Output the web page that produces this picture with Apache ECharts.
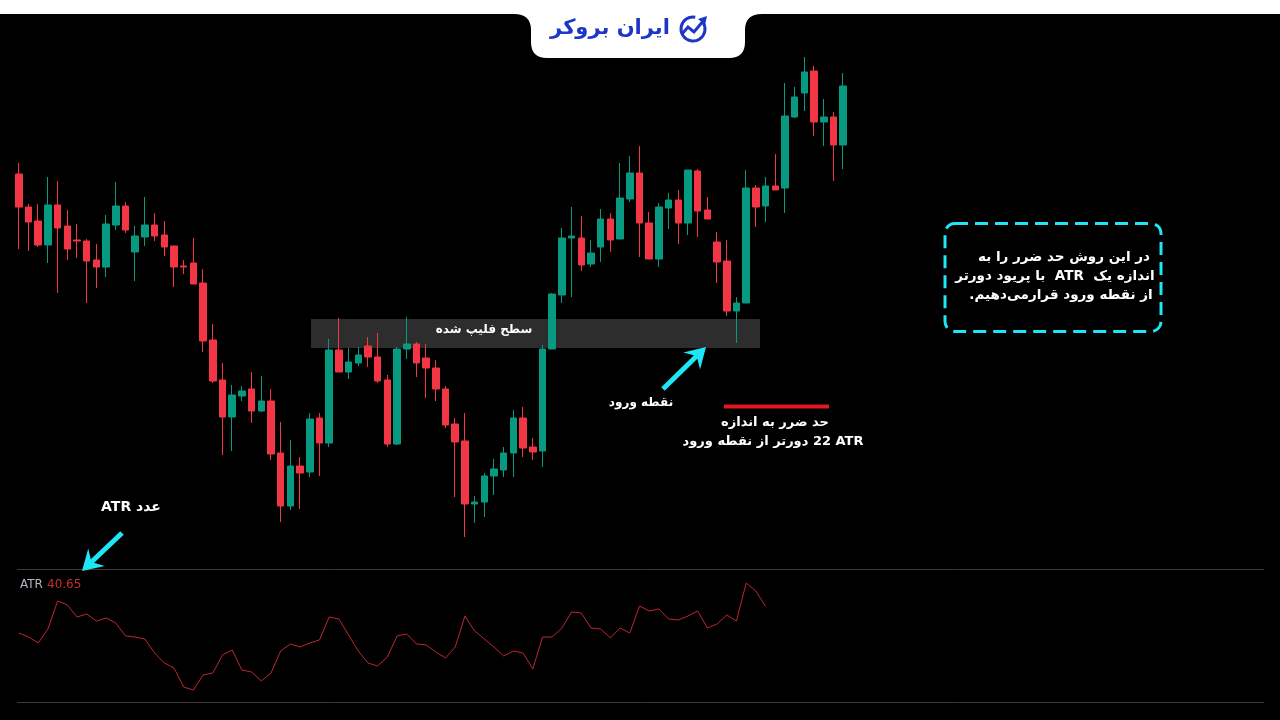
<!DOCTYPE html>
<html>
<head>
<meta charset="utf-8">
<script src="https://cdn.jsdelivr.net/npm/echarts@6/dist/echarts.min.js"></script>
<style>
html,body{margin:0;padding:0;background:#000;}
#chart{width:1280px;height:720px;}
</style>
</head>
<body>
<div id="chart"></div>
<script>
// ---- data ----
const opens  = [2426,2393,2379,2355,2395,2374,2360,2359,2340,2333,2375,2394,2348,2363,2375,2365,2354,2334,2337,2317,2260,2220,2183,2204,2211,2189,2199,2147,2094,2134,2128,2182,2157,2250,2228,2237,2254,2243,2220,2156,2251,2256,2242,2232,2211,2176,2159,2096,2098,2124,2130,2147,2182,2153,2149,2251,2305,2362,2362,2336,2353,2381,2361,2401,2427,2377,2341,2392,2400,2377,2429,2390,2358,2339,2289,2297,2412,2394,2414,2412,2483,2507,2529,2478,2483,2455];
const closes = [2393,2378,2355,2395,2372,2351,2359,2339,2333,2376,2394,2370,2364,2375,2364,2353,2333,2333,2316,2259,2219,2183,2205,2209,2189,2199,2146,2094,2134,2127,2181,2157,2250,2228,2238,2245,2243,2219,2156,2251,2256,2237,2232,2211,2175,2158,2096,2098,2124,2131,2147,2182,2152,2148,2251,2306,2362,2364,2335,2347,2381,2360,2402,2427,2377,2341,2393,2400,2377,2430,2389,2381,2338,2289,2297,2412,2393,2414,2410,2484,2503,2528,2478,2483,2455,2514];
const lows   = [2351,2349,2353,2337,2307,2340,2342,2297,2312,2323,2370,2367,2319,2354,2359,2344,2313,2326,2316,2248,2217,2145,2149,2199,2177,2188,2140,2078,2090,2091,2123,2124,2153,2228,2221,2234,2233,2217,2153,2155,2241,2223,2202,2199,2172,2103,2063,2077,2083,2105,2123,2123,2143,2140,2133,2251,2297,2303,2329,2333,2338,2348,2361,2398,2343,2341,2333,2371,2356,2365,2363,2381,2317,2284,2257,2297,2373,2378,2410,2387,2482,2489,2464,2454,2419,2431];
const highs  = [2437,2396,2396,2423,2419,2390,2376,2361,2356,2385,2418,2398,2374,2403,2387,2379,2354,2340,2362,2331,2276,2237,2215,2214,2228,2224,2211,2178,2160,2143,2187,2187,2261,2282,2252,2253,2263,2267,2225,2253,2283,2258,2256,2240,2214,2182,2187,2104,2127,2141,2153,2190,2193,2162,2255,2307,2372,2393,2384,2360,2391,2387,2437,2444,2454,2388,2397,2407,2410,2430,2431,2403,2368,2360,2303,2430,2415,2423,2446,2517,2513,2543,2534,2501,2488,2527];
const atr = [33.77,32.74,31.20,34.80,42.02,40.99,37.90,38.67,36.87,37.64,
             36.35,33.00,32.74,32.23,28.62,26.05,24.76,19.86,19.09,22.96,
             23.47,28.11,29.40,24.24,23.73,21.41,23.47,29.14,30.94,30.17,
             31.20,31.97,37.90,37.38,33.26,29.14,26.05,25.27,27.59,33.00,
             33.52,30.94,30.68,28.88,27.33,30.17,38.15,34.29,32.23,30.17,
             27.85,29.14,28.62,24.50,32.74,32.74,35.06,39.18,38.93,35.06,
             34.80,32.49,35.06,33.77,40.73,39.44,39.96,37.38,37.12,38.15,
             39.44,35.06,36.09,38.41,36.87,46.65,44.59,40.65];
const slotCount = 129; // visible bar slots (chart continues empty to the right)
const categories = Array.from({length: slotCount}, (_, i) => String(i + 1));

const candleData = opens.map((o, i) => [o, closes[i], lows[i], highs[i]]);

const UP = '#089981', DOWN = '#f23645', CYAN = '#1ee6f6';
const FA = 'DejaVu Sans';

function arrow(x1, y1, x2, y2) {
  const dx = x2 - x1, dy = y2 - y1, L = Math.hypot(dx, dy);
  const ux = dx / L, uy = dy / L, nx = -uy, ny = ux;
  const hl = 20, hw = 12;
  const bx = x2 - hl * ux, by = y2 - hl * uy;
  const mx = x2 - 13 * ux, my = y2 - 13 * uy;
  return [
    { type: 'line', z: 50, shape: { x1, y1, x2: mx, y2: my }, style: { stroke: CYAN, lineWidth: 5 } },
    { type: 'polygon', z: 50, shape: { points: [[x2, y2], [bx + hw * nx, by + hw * ny], [mx, my], [bx - hw * nx, by - hw * ny]] }, style: { fill: CYAN } }
  ];
}
function txt(text, x, y, size, color, align) {
  return { type: 'text', z: 60, style: { text, x, y, fill: color, font: 'bold ' + size + 'px "' + FA + '"', textAlign: align || 'center', textVerticalAlign: 'middle', align: align || 'center', verticalAlign: 'middle' } };
}
// logo tab outline (quadratic corners sampled into polygon points)
function quad(p0, p1, p2, n) {
  const out = [];
  for (let i = 0; i <= n; i++) {
    const t = i / n, a = (1 - t) * (1 - t), b = 2 * (1 - t) * t, c = t * t;
    out.push([a * p0[0] + b * p1[0] + c * p2[0], a * p0[1] + b * p1[1] + c * p2[1]]);
  }
  return out;
}
const tabPts = [[514, 0], [514, 14],
  ...quad([514, 14], [531, 14], [531, 30], 8),
  ...quad([531, 42], [531, 58], [547, 58], 8),
  ...quad([729, 58], [745, 58], [745, 42], 8),
  ...quad([745, 30], [745, 14], [762, 14], 8),
  [762, 0]];

const chart = echarts.init(document.getElementById('chart'), null, { renderer: 'canvas' });

const graphics = [
  // flipped level zone
  { type: 'rect', z: 0, shape: { x: 311, y: 319, width: 449, height: 29 }, style: { fill: '#2d2d2d' } },
  txt('سطح فلیپ شده', 484, 330, 12, '#ffffff'),
  // ATR pane frame lines
  { type: 'line', z: 1, shape: { x1: 17, y1: 569.5, x2: 1264, y2: 569.5 }, style: { stroke: '#3a3a3a', lineWidth: 1 } },
  { type: 'line', z: 1, shape: { x1: 17, y1: 702.5, x2: 1264, y2: 702.5 }, style: { stroke: '#3a3a3a', lineWidth: 1 } },
  { type: 'text', z: 60, style: { text: 'ATR', x: 20, y: 585, fill: '#b2b5be', font: '12px "DejaVu Sans"', textAlign: 'left', textVerticalAlign: 'middle', align: 'left', verticalAlign: 'middle' } },
  { type: 'text', z: 60, style: { text: atr[atr.length - 1].toFixed(2), x: 47, y: 585, fill: '#c62d2d', font: '12px "DejaVu Sans"', textAlign: 'left', textVerticalAlign: 'middle', align: 'left', verticalAlign: 'middle' } },
  // annotations
  ...arrow(663, 389, 706, 347),
  txt('نقطه ورود', 641, 403, 12, '#ffffff'),
  { type: 'line', z: 50, shape: { x1: 724, y1: 406.5, x2: 829, y2: 406.5 }, style: { stroke: '#e0191e', lineWidth: 4 } },
  txt('حد ضرر به اندازه', 775, 423, 13, '#ffffff'),
  txt('دورتر از نقطه ورود \u200E22 ATR', 773, 442, 13, '#ffffff'),
  ...arrow(122, 533, 82, 571),
  txt('ATR عدد', 131, 507, 14, '#ffffff'),
  // dashed info box
  { type: 'rect', z: 50, shape: { x: 945, y: 223.5, width: 216, height: 108, r: 10 }, style: { fill: 'none', stroke: CYAN, lineWidth: 3, lineDash: [13, 7] } },
  txt('در این روش حد ضرر را به', 1064, 257, 13.5, '#ffffff'),
  txt('با پریود دورتر  ATR  اندازه یک', 1055, 276, 13.5, '#ffffff'),
  txt('.از نقطه ورود قرارمی‌دهیم', 1061, 295, 13.5, '#ffffff'),
  // top white bar and logo tab
  { type: 'rect', z: 90, shape: { x: 0, y: 0, width: 1280, height: 14 }, style: { fill: '#ffffff' } },
  { type: 'polygon', z: 90, shape: { points: tabPts }, style: { fill: '#ffffff' } },
  { type: 'text', z: 95, style: { text: 'ایران بروکر', x: 610, y: 29, fill: '#1d36c6', font: 'bold 21px "DejaVu Sans"', textAlign: 'center', textVerticalAlign: 'middle', align: 'center', verticalAlign: 'middle' } },
  { type: 'arc', z: 95, shape: { cx: 693, cy: 29, r: 12, startAngle: -0.6, endAngle: 4.9 }, style: { stroke: '#1d36c6', lineWidth: 3, fill: 'none' } },
  { type: 'polyline', z: 95, shape: { points: [[682, 34], [688, 27], [694, 32], [704, 20]] }, style: { stroke: '#1d36c6', lineWidth: 3, fill: 'none' } },
  { type: 'polygon', z: 95, shape: { points: [[707, 16], [698, 19], [705, 25]] }, style: { fill: '#1d36c6' } }
];

const option = {
  backgroundColor: '#000000',
  animation: false,
  grid: [
    { left: 14, right: 15, top: 0, height: 560 },
    { left: 14, right: 15, top: 570, height: 132 }
  ],
  xAxis: [
    { type: 'category', data: categories, gridIndex: 0, boundaryGap: true, show: false },
    { type: 'category', data: categories, gridIndex: 1, boundaryGap: true, show: false }
  ],
  yAxis: [
    { type: 'value', gridIndex: 0, min: 2040, max: 2600, show: false, splitLine: { show: false } },
    { type: 'value', gridIndex: 1, min: 16, max: 50, show: false, splitLine: { show: false } }
  ],
  series: [
    {
      type: 'candlestick', xAxisIndex: 0, yAxisIndex: 0, data: candleData, barWidth: 7,
      itemStyle: { color: UP, color0: DOWN, borderColor: UP, borderColor0: DOWN, borderWidth: 1 }
    },
    {
      type: 'line', xAxisIndex: 1, yAxisIndex: 1, data: atr, symbol: 'none',
      lineStyle: { color: '#c0262c', width: 1 }
    }
  ],
  graphic: { elements: graphics }
};
chart.setOption(option);
</script>
</body>
</html>
